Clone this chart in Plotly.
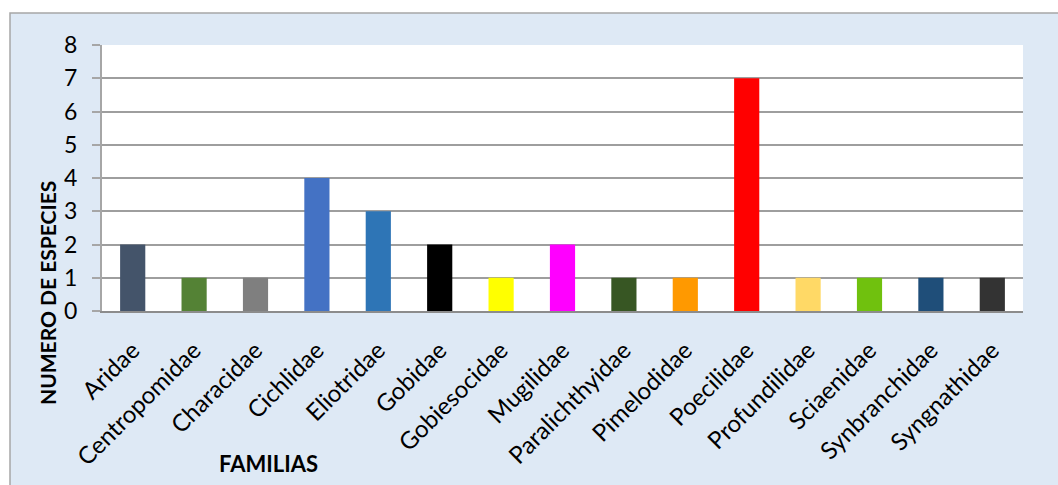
import plotly.graph_objects as go

familias = ["Aridae", "Centropomidae", "Characidae", "Cichlidae", "Eliotridae", "Gobidae",
            "Gobiesocidae", "Mugilidae", "Paralichthyidae", "Pimelodidae", "Poecilidae",
            "Profundilidae", "Sciaenidae", "Synbranchidae", "Syngnathidae"]
especies = [2, 1, 1, 4, 3, 2, 1, 2, 1, 1, 7, 1, 1, 1, 1]
colores = ["#44546A", "#548235", "#7F7F7F", "#4472C4", "#2E75B6", "#000000", "#FFFF00",
           "#FF00FF", "#375623", "#FF9900", "#FF0000", "#FFD966", "#70C10E", "#1F4E79", "#333333"]

W, H = 1058, 485
L, R, T, B = 102, 35, 45, 174
pw, ph = W - L - R, H - T - B

def px(x):
    return (x - L) / pw

def py(y):
    return (H - B - y) / ph

fig = go.Figure(go.Bar(x=familias, y=especies, marker_color=colores, marker_line_width=0, width=0.41))

FONT = "Lato"
fig.update_layout(
    width=W, height=H,
    margin=dict(l=L, r=R, t=T, b=B),
    paper_bgcolor="white",
    plot_bgcolor="white",
    showlegend=False,
    font=dict(family=FONT, color="black"),
    shapes=[
        dict(type="rect", xref="paper", yref="paper", x0=px(10), x1=px(1070), y0=py(495), y1=py(13),
             fillcolor="#DEE9F5", line=dict(color="#A6A6A6", width=1.5), layer="below"),
        dict(type="rect", xref="paper", yref="paper", x0=0, x1=1, y0=0, y1=1,
             fillcolor="white", line=dict(width=0), layer="below"),
    ],
    annotations=[
        dict(text="<b>NUMERO DE ESPECIES</b>", xref="paper", yref="paper", x=px(47), y=py(293),
             showarrow=False, textangle=-90, font=dict(size=21, family=FONT, color="black"),
             xanchor="center", yanchor="middle"),
        dict(text="<b>FAMILIAS</b>", xref="paper", yref="paper", x=px(268), y=py(463),
             showarrow=False, font=dict(size=22, family=FONT, color="black"),
             xanchor="center", yanchor="middle"),
    ],
)
fig.update_yaxes(range=[0, 8], dtick=1, showgrid=True, gridcolor="#9E9E9E", gridwidth=1.5,
                 showline=True, linecolor="#A6A6A6", linewidth=2, ticks="outside", ticklen=8,
                 tickcolor="#A6A6A6", tickwidth=1.5, tickfont=dict(size=23, family=FONT),
                 ticklabelstandoff=10, zeroline=False)
fig.update_xaxes(range=[-0.5, 14.5], showline=True, linecolor="#8C8C8C", linewidth=1.5, ticks="",
                 tickangle=-45, tickfont=dict(size=24, family=FONT), ticklabelstandoff=14)

fig.write_html("out.html")
